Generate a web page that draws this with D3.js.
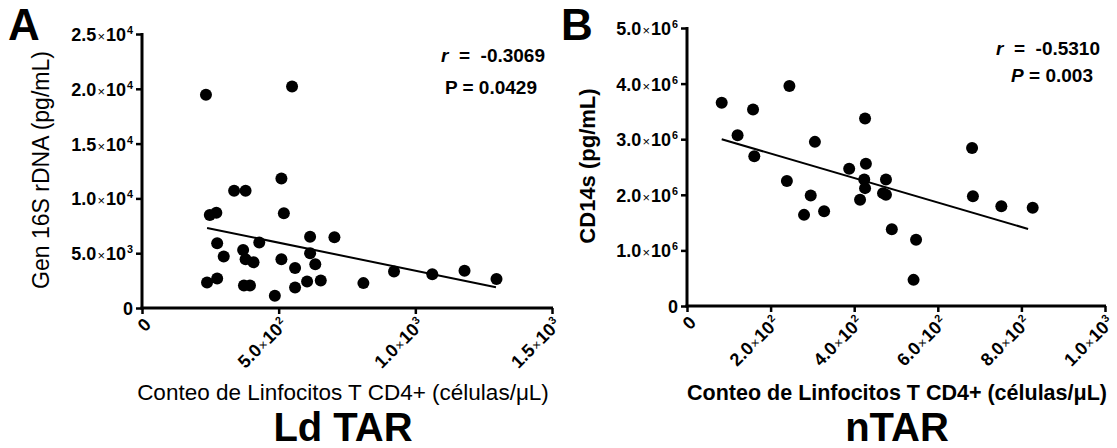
<!DOCTYPE html>
<html><head><meta charset="utf-8">
<script src="https://cdn.jsdelivr.net/npm/d3@7"></script>
<style>body{margin:0;background:#fff}svg{display:block}text{font-family:"Liberation Sans",Arial,sans-serif;fill:#000;white-space:pre}</style>
</head><body>
<svg id="c" width="1117" height="448"></svg>
<script>
// Panel A data (Ld TAR): CD4 count vs Gen 16S rDNA
const cd4A = [234,549,337,379,510,519,248,272,275,299,370,379,408,429,373,395,238,275,486,510,560,560,604,615,615,634,654,704,810,922,1062,1180,1297];
const rdnaA = [19450,20210,10700,10700,11820,8640,8480,8700,5910,4700,5300,4450,4180,5970,2060,2060,2330,2700,1120,4450,3640,1880,2420,6510,5000,4000,2510,6450,2270,3330,3090,3390,2640];
const fitAx = [238,1295];
const fitAy = [7300,1900];
const xTicksA = [0,500,1000,1500];
const yTicksA = [0,5000,10000,15000,20000,25000];

// Panel B data (nTAR): CD4 count vs CD14s
const cd4B = [83,121,158,161,245,239,280,296,306,328,388,414,426,428,424,426,469,476,476,490,548,542,682,684,752,827];
const cd14B = [3.657e6,3.072e6,3.536e6,2.693e6,3.958e6,2.247e6,1.639e6,1.988e6,2.952e6,1.705e6,2.470e6,1.910e6,3.373e6,2.560e6,2.277e6,2.120e6,2.030e6,2.277e6,2.000e6,1.380e6,1.193e6,0.470e6,2.843e6,1.976e6,1.795e6,1.765e6];
const fitBx = [83,816];
const fitBy = [3.0e6,1.386e6];
const xTicksB = [0,200,400,600,800,1000];
const yTicksB = [0,1e6,2e6,3e6,4e6,5e6];

const svg = d3.select("#c");

function sci(g, v) {
  if (v === 0) { g.text("0"); return; }
  const e = Math.floor(Math.log10(v));
  const m = (v / Math.pow(10, e)).toFixed(1);
  g.text(null);
  g.append("tspan").text(m);
  g.append("tspan").attr("font-weight","normal").attr("font-size","0.72em").attr("dx","1").text("×");
  g.append("tspan").attr("dx","1").text("10");
  g.append("tspan").attr("font-size","0.6em").attr("dy","-0.65em").attr("dx","1").text(e);
}

function panel(cfg) {
  const x = d3.scaleLinear().domain(cfg.xd).range(cfg.xr);
  const y = d3.scaleLinear().domain(cfg.yd).range(cfg.yr);
  const g = svg.append("g");

  const ya = g.append("g").attr("transform",`translate(${cfg.xr[0]},0)`)
    .call(d3.axisLeft(y).tickValues(cfg.yt).tickSize(6).tickFormat(""));
  ya.select(".domain").attr("stroke","#000").attr("stroke-width",3).attr("d",`M0,${cfg.yr[0]+1.5}V${cfg.yr[1]-1}`);
  ya.selectAll(".tick line").attr("stroke","#000").attr("stroke-width",2.5);
  ya.selectAll(".tick").append("text")
    .attr("x",-9).attr("dy","0.36em").attr("text-anchor","end")
    .attr("font-size",18).attr("font-weight","bold")
    .each(function(d){ sci(d3.select(this), d); });

  const xa = g.append("g").attr("transform",`translate(0,${cfg.yr[0]})`)
    .call(d3.axisBottom(x).tickValues(cfg.xt).tickSize(6).tickFormat(""));
  xa.select(".domain").attr("stroke","#000").attr("stroke-width",3).attr("d",`M${cfg.xr[0]-1.5},0H${cfg.xr[1]+1}`);
  xa.selectAll(".tick line").attr("stroke","#000").attr("stroke-width",2.5);
  xa.selectAll(".tick").append("text")
    .attr("transform","translate(5,13) rotate(-45)")
    .attr("text-anchor","end").attr("dy","0.36em")
    .attr("font-size",18).attr("font-weight","bold")
    .each(function(d){ sci(d3.select(this), d); });

  g.append("line")
    .attr("x1",x(cfg.fx[0])).attr("y1",y(cfg.fy[0]))
    .attr("x2",x(cfg.fx[1])).attr("y2",y(cfg.fy[1]))
    .attr("stroke","#000").attr("stroke-width",2);

  g.selectAll("circle.pt").data(cfg.xs.map((v,i)=>[v,cfg.ys[i]])).enter()
    .append("circle").attr("class","pt")
    .attr("cx",d=>x(d[0])).attr("cy",d=>y(d[1])).attr("r",6).attr("fill","#000");

  g.append("text").attr("x",cfg.letter[1]).attr("y",cfg.letter[2])
    .attr("font-size",44).attr("font-weight","bold").text(cfg.letter[0]);

  g.append("text").attr("transform",`translate(${cfg.ytPos[0]},${cfg.ytPos[1]}) rotate(-90)`)
    .attr("text-anchor","middle").attr("font-size",cfg.ytSize).attr("font-weight",cfg.ytBold?"bold":"normal")
    .text(cfg.ytitle);

  g.append("text").attr("x",cfg.xtPos[0]).attr("y",cfg.xtPos[1])
    .attr("text-anchor","middle").attr("font-size",cfg.xtSize).attr("font-weight",cfg.xtBold?"bold":"normal")
    .text(cfg.xtitle);

  g.append("text").attr("x",cfg.xtPos[0]).attr("y",cfg.titleY)
    .attr("text-anchor","middle").attr("font-size",40).attr("font-weight","bold")
    .text(cfg.title);

  const s1 = g.append("text").attr("x",cfg.stats[0]).attr("y",cfg.stats[1])
    .attr("text-anchor","end").attr("font-size",19).attr("font-weight","bold");
  s1.append("tspan").attr("font-style","italic").text("r");
  s1.append("tspan").text("  =  " + cfg.r);
  const s2 = g.append("text").attr("x",cfg.stats[2]).attr("y",cfg.stats[3])
    .attr("text-anchor","end").attr("font-size",19).attr("font-weight","bold");
  s2.append("tspan").attr("font-style",cfg.pItalic?"italic":"normal").text("P");
  s2.append("tspan").text(" = " + cfg.p);
}

panel({
  xd:[0,1500], yd:[0,25000], xr:[142,552], yr:[308,34],
  xt:xTicksA, yt:yTicksA, xs:cd4A, ys:rdnaA, fx:fitAx, fy:fitAy,
  letter:["A",8,40], ytitle:"Gen 16S rDNA (pg/mL)", ytPos:[49,170], ytBold:false, ytSize:23,
  xtitle:"Conteo de Linfocitos T CD4+ (células/μL)", xtPos:[343,400], xtBold:false, xtSize:22.5,
  title:"Ld TAR", titleY:441,
  stats:[545,62,537,94], r:"-0.3069", p:"0.0429", pItalic:false
});

panel({
  xd:[0,1000], yd:[0,5e6], xr:[687,1105], yr:[306,28],
  xt:xTicksB, yt:yTicksB, xs:cd4B, ys:cd14B, fx:fitBx, fy:fitBy,
  letter:["B",561,40], ytitle:"CD14s (pg/mL)", ytPos:[595,166], ytBold:true, ytSize:22,
  xtitle:"Conteo de Linfocitos T CD4+ (células/μL)", xtPos:[897,400], xtBold:true, xtSize:21.5,
  title:"nTAR", titleY:441,
  stats:[1100,55,1093,82], r:"-0.5310", p:"0.003", pItalic:true
});
</script>
</body></html>
